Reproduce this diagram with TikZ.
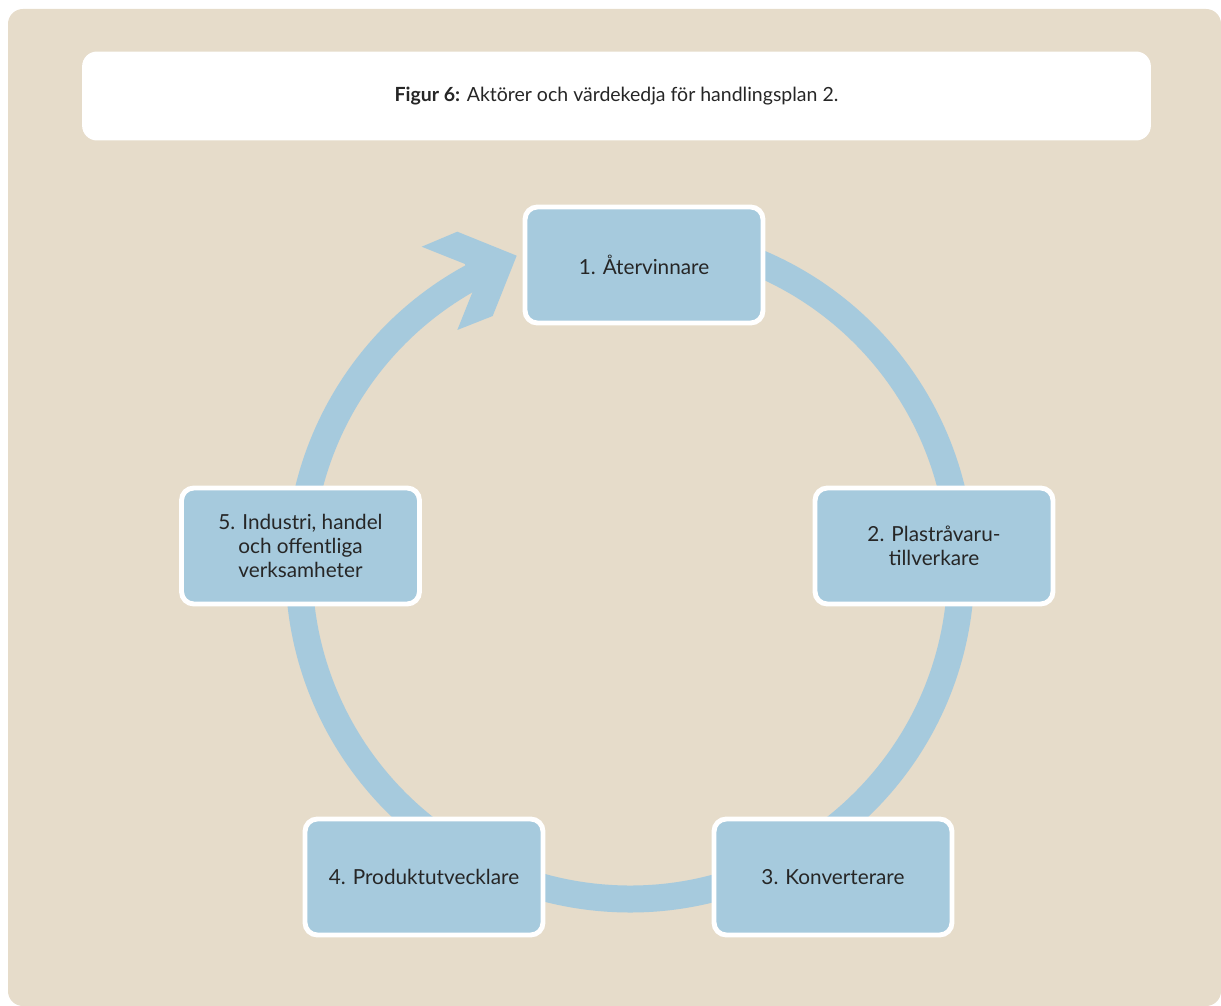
\documentclass[tikz,border=0pt]{standalone}
\usepackage{fontspec}
\setmainfont{Lato}

\definecolor{fondo}{HTML}{E6DCCA}
\definecolor{azul}{HTML}{A6CADD}
\definecolor{texto}{HTML}{262626}

\tikzset{
  actor/.style={draw=white, line width=2.8pt, fill=azul, rounded corners=7pt,
    minimum width=4.76cm, minimum height=2.32cm, align=center, text=texto,
    font=\fontsize{11.8}{13.6}\selectfont},
}

\begin{document}
\begin{tikzpicture}[x=0.02cm, y=-0.02cm]

  \useasboundingbox (0,0) rectangle (1221,1006);

  % Fondo y titulo
  \fill[fondo, rounded corners=8.5pt] (8,9) rectangle (1221,1006);
  \node[fill=white, rounded corners=8.5pt, minimum width=21.38cm, minimum height=1.78cm,
    text=texto, font=\fontsize{11.1}{13.6}\selectfont] (titulo) at (616.5,96)
    {\textbf{Figur 6:} Aktörer och värdekedja för handlingsplan 2.};

  % Parámetros del anillo
  \def\radio{331} % Radio medio
  \def\inicio{-85} % Empieza bajo el nodo 1
  \def\fin{242} % Termina en la flecha

  % Dibujar el anillo
  \coordinate (c) at (630,568);
  \draw[azul, line width=0.54cm] (c) ++(\inicio:\radio)
    arc[start angle=\inicio, end angle=\fin, radius=\radio];

  % Punta de la flecha
  \fill[azul] (465,264) -- (421.7,246.7) -- (457.3,231.7) -- (516.7,255.7)
    -- (492.7,316) -- (457.3,330) -- (473.3,290) -- cycle;

  % Actores
  \node[actor] (a1) at (644,265) {1. Återvinnare};
  \node[actor] (a2) at (934,546) {2. Plastråvaru-\\tillverkare};
  \node[actor] (a3) at (833,877) {3. Konverterare};
  \node[actor] (a4) at (424,877) {4. Produktutvecklare};
  \node[actor] (a5) at (300.5,546) {5. Industri, handel\\och offentliga\\verksamheter};

\end{tikzpicture}
\end{document}
